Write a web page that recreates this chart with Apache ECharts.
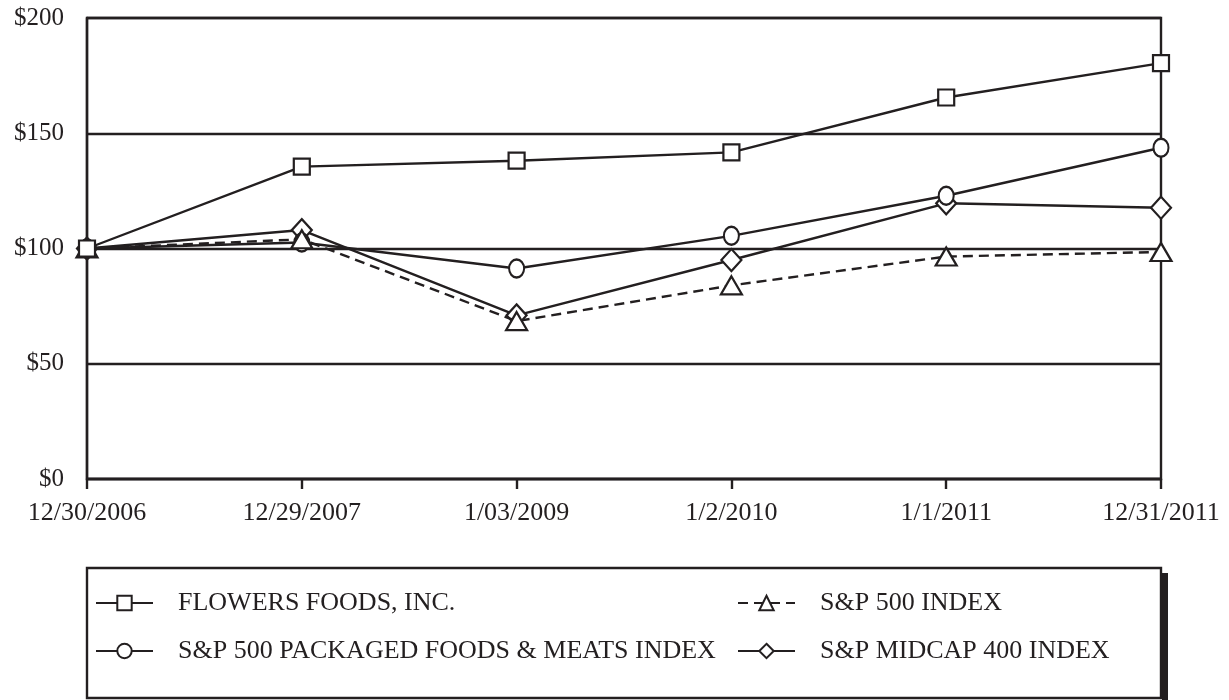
<!DOCTYPE html>
<html>
<head>
<meta charset="utf-8">
<script src="https://cdn.jsdelivr.net/npm/echarts@6/dist/echarts.min.js"></script>
<style>
html,body{margin:0;padding:0;background:#fff;}
#c{width:1229px;height:700px;}
</style>
</head>
<body>
<div id="c"></div>
<script>
const categories = ['12/30/2006','12/29/2007','1/03/2009','1/2/2010','1/1/2011','12/31/2011'];
const yTicks = [0, 50, 100, 150, 200];
const flowers = [100, 135.5, 138.1, 141.7, 165.5, 180.4];
const packaged = [100, 102.6, 91.3, 105.5, 122.9, 143.7];
const sp500 = [100, 104.0, 68.5, 84.0, 96.5, 98.5];
const midcap = [100, 108.0, 71.0, 95.0, 119.6, 117.7];
const names = ['FLOWERS FOODS, INC.', 'S&P 500 PACKAGED FOODS & MEATS INDEX', 'S&P 500 INDEX', 'S&P MIDCAP 400 INDEX'];

const INK = '#231f20';
const FONT = 'Liberation Serif';
const chart = echarts.init(document.getElementById('c'), null, {renderer:'canvas'});

function mkSeries(name, data, symbol, size, dashed, z) {
  return {
    name: name, type: 'line', data: data, symbol: symbol, symbolSize: size,
    z: z,
    lineStyle: {color: INK, width: 2.4, type: dashed ? [10, 6] : 'solid'},
    itemStyle: {color: '#fff', borderColor: INK, borderWidth: 2.2},
    emphasis: {disabled: true},
    animation: false
  };
}
function mkLegend(name, left, centerY) {
  return {
    data: [name], left: left, top: centerY - 13, padding: 0,
    itemWidth: 57, itemHeight: 18, selectedMode: false,
    textStyle: {fontFamily: FONT, fontSize: 26, color: INK, lineHeight: 26, padding: [0, 0, 0, 20]}
  };
}

chart.setOption({
  animation: false,
  backgroundColor: '#fff',
  grid: {left: 87, right: 68, top: 18, bottom: 221, show: true, borderColor: INK, borderWidth: 2.4, backgroundColor: 'transparent'},
  xAxis: {
    type: 'category', data: categories, boundaryGap: false,
    axisLine: {show: true, lineStyle: {color: INK, width: 2.4}},
    axisTick: {show: true, length: 10, lineStyle: {color: INK, width: 2.4}},
    axisLabel: {fontFamily: FONT, fontSize: 26, color: INK, margin: 21, interval: 0},
    splitLine: {show: false}
  },
  yAxis: {
    type: 'value', min: yTicks[0], max: yTicks[yTicks.length - 1], interval: yTicks[1] - yTicks[0],
    axisLine: {show: true, lineStyle: {color: INK, width: 2.4}},
    axisTick: {show: false},
    axisLabel: {fontFamily: FONT, fontSize: 25, color: INK, margin: 23, formatter: v => '$' + v},
    splitLine: {show: true, lineStyle: {color: INK, width: 2.4}}
  },
  legend: [
    mkLegend(names[0], 95, 603),
    mkLegend(names[1], 95, 651),
    mkLegend(names[2], 737, 603),
    mkLegend(names[3], 737, 651)
  ],
  graphic: [
    {type: 'rect', shape: {x: 1162, y: 573, width: 6, height: 130}, style: {fill: INK}, z: 0},
    {type: 'rect', shape: {x: 87, y: 568, width: 1074, height: 130}, style: {fill: '#fff', stroke: INK, lineWidth: 2.4}, z: 1}
  ],
  series: [
    mkSeries(names[3], midcap, 'diamond', [20, 22], false, 2),
    mkSeries(names[1], packaged, 'circle', [15, 18], false, 3),
    mkSeries(names[2], sp500, 'triangle', [21, 18], true, 4),
    mkSeries(names[0], flowers, 'rect', [16, 16], false, 5)
  ]
});
</script>
</body>
</html>
